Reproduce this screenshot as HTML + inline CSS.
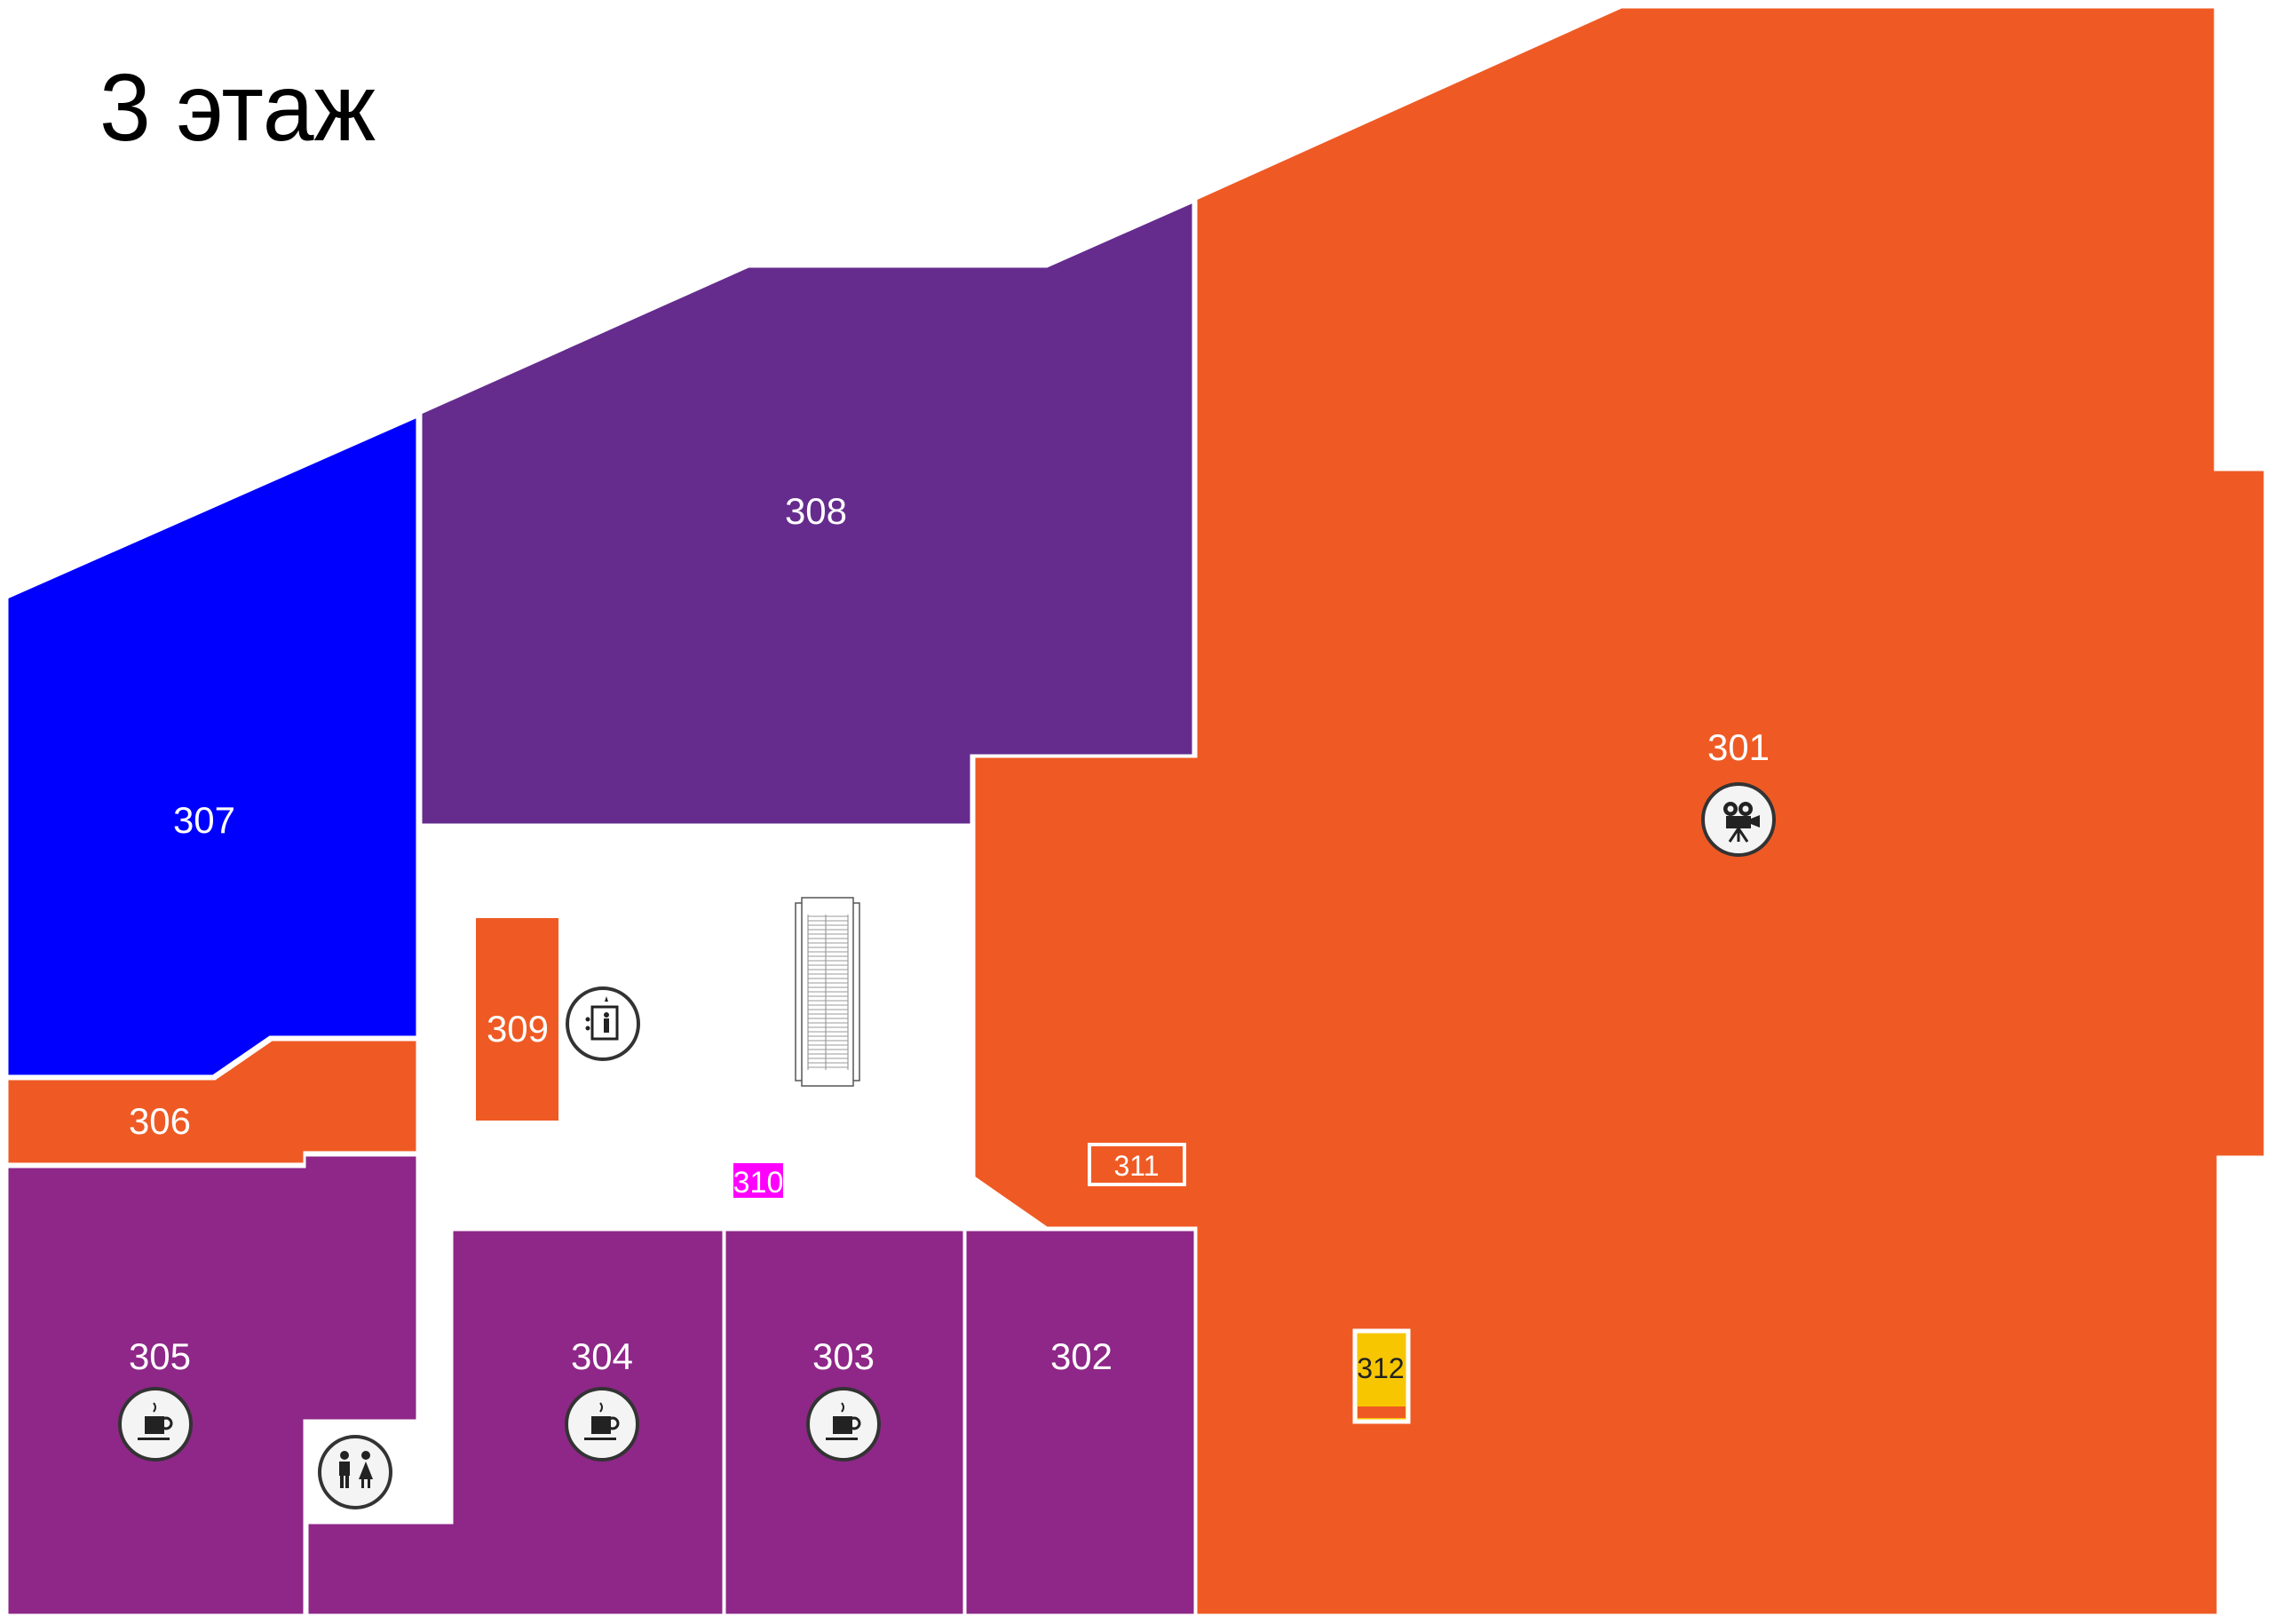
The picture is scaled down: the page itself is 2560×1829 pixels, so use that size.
<!DOCTYPE html>
<html><head><meta charset="utf-8"><style>
html,body{margin:0;padding:0;background:#fff;}
svg{display:block;}
text{font-family:"Liberation Sans","DejaVu Sans",sans-serif;}
</style></head><body>
<svg width="2560" height="1829" viewBox="0 0 2560 1829" xmlns="http://www.w3.org/2000/svg">
<rect width="2560" height="1829" fill="#fff"/>
<text x="112" y="158" font-size="108" fill="#000" textLength="311" lengthAdjust="spacingAndGlyphs">3 этаж</text>
<g stroke="#fff" stroke-width="3">
<!-- 301 -->
<polygon fill="#ef5a24" points="1347,224 1826,8 2495,8 2495,529 2551,529 2551,1303 2498,1303 2498,1819 1347,1819 1347,1383 1179,1383 1097,1326 1097,852 1347,852"/>
<!-- 308 -->
<polygon fill="#652c8e" points="474,465 843,300 1179,300 1344,227 1344,851 1094,851 1094,929 474,929"/>
<!-- 307 -->
<polygon fill="#0000ff" points="8,673 470,469 470,1168 304,1168 240,1212 8,1212"/>
<!-- 306 -->
<polygon fill="#ef5a24" points="8,1215 242,1215 306,1171 470,1171 470,1298 343,1298 343,1311 8,1311"/>
<!-- 305 -->
<polygon fill="#8e2788" points="8,1314 343,1314 343,1301 470,1301 470,1600 343,1600 343,1819 8,1819"/>
<!-- 304 -->
<polygon fill="#8e2788" points="509,1385 815,1385 815,1819 346,1819 346,1715 509,1715"/>
<rect fill="#8e2788" x="816" y="1385" width="270" height="434"/>
<rect fill="#8e2788" x="1087" y="1385" width="259" height="434"/>
<!-- 309 -->
<rect fill="#ef5a24" x="536" y="1034" width="93" height="228" stroke="none"/>
</g>
<!-- 310 -->
<rect fill="#ff00ff" x="826" y="1310" width="56" height="39"/>
<!-- 311 -->
<rect fill="none" stroke="#fff" stroke-width="4" x="1227" y="1289" width="107" height="45"/>
<!-- 312 -->
<rect fill="#f7c600" stroke="#fff" stroke-width="5" x="1526" y="1499" width="60" height="102"/>
<rect fill="#ef5a24" x="1529" y="1584" width="54" height="13"/>
<!-- escalator -->
<g fill="#fff" stroke="#555" stroke-width="1.5">
<rect x="896" y="1017" width="72" height="200"/>
<rect x="903" y="1011" width="58" height="212"/>
</g>
<g stroke="#888" stroke-width="1">
<line x1="910" y1="1030" x2="910" y2="1205"/><line x1="955" y1="1030" x2="955" y2="1205"/>
<line x1="930" y1="1030" x2="930" y2="1205"/>
</g>
<rect x="910" y="1030" width="45" height="175" fill="none" stroke="#999" stroke-dasharray="1 3" stroke-width="0"/>
<g stroke="#999" stroke-width="1">
<path d="M910 1032H955M910 1037H955M910 1042H955M910 1047H955M910 1052H955M910 1057H955M910 1062H955M910 1067H955M910 1072H955M910 1077H955M910 1082H955M910 1087H955M910 1092H955M910 1097H955M910 1102H955M910 1107H955M910 1112H955M910 1117H955M910 1122H955M910 1127H955M910 1132H955M910 1137H955M910 1142H955M910 1147H955M910 1152H955M910 1157H955M910 1162H955M910 1167H955M910 1172H955M910 1177H955M910 1182H955M910 1187H955M910 1192H955M910 1197H955M910 1202H955"/>
</g>
<!-- icons -->
<g stroke="#333" stroke-width="4" fill="#f4f4f4">
<circle cx="1958" cy="923" r="40"/>
<circle cx="175" cy="1604" r="40"/>
<circle cx="678" cy="1604" r="40"/>
<circle cx="950" cy="1604" r="40"/>
<circle cx="400" cy="1658" r="40"/>
<circle cx="679" cy="1153" r="40" fill="#fff"/>
</g>
<!-- camera -->
<g fill="#222">
<circle cx="1949" cy="911" r="8"/><circle cx="1966" cy="911" r="8"/>
<rect x="1944" y="919" width="28" height="14"/>
<polygon points="1972,922 1982,918 1982,932 1972,928"/>
<path d="M1958 933 L1948 948 M1958 933 L1968 948 M1958 933 L1958 948" stroke="#222" stroke-width="3"/>
</g>
<g fill="#f4f4f4"><circle cx="1949" cy="911" r="3.5"/><circle cx="1966" cy="911" r="3.5"/></g>
<!-- coffee cups -->
<g id="cup" fill="#222">
<rect x="163" y="1595" width="22" height="20"/>
<circle cx="187" cy="1603" r="6" fill="none" stroke="#222" stroke-width="3"/>
<rect x="155" y="1619" width="36" height="3"/>
<path d="M173 1580 q4 5 0 10" stroke="#222" stroke-width="2" fill="none"/>
</g>
<use href="#cup" x="503"/>
<use href="#cup" x="775"/>
<!-- WC -->
<g fill="#222">
<circle cx="388" cy="1639" r="5"/><circle cx="412" cy="1639" r="5"/>
<rect x="382" y="1646" width="12" height="16"/><rect x="383" y="1662" width="4" height="14"/><rect x="389" y="1662" width="4" height="14"/>
<polygon points="412,1646 420,1666 404,1666"/><rect x="407" y="1666" width="3" height="10"/><rect x="414" y="1666" width="3" height="10"/>
</g>
<!-- elevator -->
<g fill="none" stroke="#222" stroke-width="3">
<rect x="667" y="1134" width="28" height="36"/>
</g>
<g fill="#222"><circle cx="683" cy="1143" r="3"/><rect x="680" y="1147" width="6" height="16"/><polygon points="681,1128 685,1128 683,1122"/><circle cx="662" cy="1148" r="2.5"/><circle cx="662" cy="1158" r="2.5"/></g>
<!-- labels -->
<g fill="#fff" font-size="42" text-anchor="middle">
<text x="1958" y="856">301</text>
<text x="919" y="590">308</text>
<text x="230" y="938">307</text>
<text x="180" y="1277">306</text>
<text x="180" y="1542">305</text>
<text x="678" y="1542">304</text>
<text x="950" y="1542">303</text>
<text x="1218" y="1542">302</text>
<text x="583" y="1173">309</text>
<text x="854" y="1343" font-size="34">310</text>
<text x="1280" y="1324" font-size="32">311</text>
</g>
<text x="1555" y="1552" font-size="32" fill="#222" text-anchor="middle">312</text>
</svg>
</body></html>
